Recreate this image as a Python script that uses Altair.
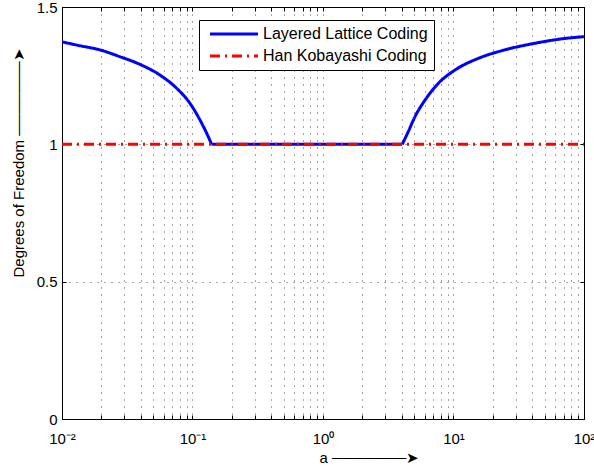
import json
import altair as alt
import pandas as pd

SERIES = ["Layered Lattice Coding", "Han Kobayashi Coding"]
COLORS = ["#0000ff", "#ff0000"]
DASHES = [[1, 0], [10, 5, 2, 5]]

# Layered lattice coding curve (three pieces)
LEFT_A = [0.01, 0.0137, 0.0195, 0.0278, 0.0396, 0.0564, 0.0757, 0.0957, 0.114, 0.132, 0.140]
LEFT_DOF = [1.373, 1.359, 1.344, 1.319, 1.291, 1.252, 1.204, 1.149, 1.089, 1.028, 1.0]
FLAT_A = [0.140, 4.05]
FLAT_DOF = [1.0, 1.0]
RIGHT_A = [4.05, 4.50, 5.07, 6.05, 7.65, 10.3, 15.5, 24.8, 42.1, 67.5, 100]
RIGHT_DOF = [1.0, 1.046, 1.101, 1.161, 1.222, 1.271, 1.313, 1.344, 1.368, 1.384, 1.392]

# Han Kobayashi coding
HK_A = [0.01, 100]
HK_DOF = [1.0, 1.0]

X_DECADES = [0.01, 0.1, 1, 10]
X_MULTIPLIERS = [1, 2, 3, 4, 5, 6, 7, 8, 9]
X_TICK_LABELS = ["10⁻²", "10⁻¹", "10⁰", "10¹", "10²"]
Y_TICKS = [0, 0.5, 1, 1.5]

X_TICKS = [round(m * d, 10) for d in X_DECADES for m in X_MULTIPLIERS] + [100]

rows = []
for seg, (xs, ys) in enumerate([(LEFT_A, LEFT_DOF), (FLAT_A, FLAT_DOF), (RIGHT_A, RIGHT_DOF)]):
    for a, v in zip(xs, ys):
        rows.append({"a": a, "dof": v, "series": SERIES[0], "seg": seg})
lattice = pd.DataFrame(rows)
hk = pd.DataFrame({"a": HK_A, "dof": HK_DOF, "series": SERIES[1], "seg": 0})

FONT = "Liberation Sans"

label_expr = (
    "abs(log(datum.value)/LN10 - round(log(datum.value)/LN10)) < 1e-6 ? "
    + json.dumps(X_TICK_LABELS, ensure_ascii=False)
    + "[round(log(datum.value)/LN10)+2] : ''"
)

xscale = alt.Scale(type="log", domain=[0.01, 100], nice=False)
yscale = alt.Scale(domain=[0, 1.5], nice=False, zero=False)

x_axis = alt.Axis(
    values=X_TICKS, labelExpr=label_expr, labelOverlap=False, labelFlush=False,
    labelFont=FONT, labelFontSize=15, labelColor="black", labelPadding=12.5,
    labelBaseline="top",
    domain=False, ticks=True, tickSize=4, tickColor="black", offset=-4,
    grid=True, gridDash=[1, 6], gridColor="#000000", gridOpacity=0.7,
    title="a ───────➤", titleFont=FONT, titleFontSize=15, titleFontWeight="normal",
    titleColor="black", titleX=257, titleY=47, titleAlign="left",
    titleBaseline="alphabetic",
)
y_axis = alt.Axis(
    values=Y_TICKS, format="~g", labelFont=FONT, labelFontSize=15,
    labelColor="black", labelPadding=5, labelFlush=False,
    domain=False, ticks=True, tickSize=4, tickColor="black", offset=-4,
    grid=True, gridDash=[1, 6], gridColor="#000000", gridOpacity=0.7,
    title="Degrees of Freedom ───────➤", titleFont=FONT, titleFontSize=15,
    titleFontWeight="normal", titleColor="black", titleAngle=270,
    titleX=-42.5, titleY=270, titleAlign="left", titleBaseline="alphabetic",
)

legend = alt.Legend(
    orient="none", legendX=137, legendY=13, title=None,
    fillColor="white", strokeColor="black", padding=6,
    labelFont=FONT, labelFontSize=16, labelColor="black", labelLimit=400,
    symbolType="M-0.5,0H7.5", symbolSize=144, symbolStrokeWidth=3,
    labelOffset=42, rowPadding=6,
)

color = alt.Color("series:N", scale=alt.Scale(domain=SERIES, range=COLORS), legend=legend)
dash = alt.StrokeDash("series:N", scale=alt.Scale(domain=SERIES, range=DASHES), legend=legend)

blue = alt.Chart(lattice).mark_line(strokeWidth=3, interpolate="monotone", clip=True).encode(
    x=alt.X("a:Q", scale=xscale, axis=x_axis),
    y=alt.Y("dof:Q", scale=yscale, axis=y_axis),
    color=color, strokeDash=dash, detail="seg:N",
)
red = alt.Chart(hk).mark_line(strokeWidth=3, clip=True).encode(
    x=alt.X("a:Q", scale=xscale, axis=None),
    y=alt.Y("dof:Q", scale=yscale, axis=None),
    color=color, strokeDash=dash,
)

x_top = alt.Axis(values=X_TICKS, orient="top", labels=False, domain=False, ticks=True,
                 tickSize=4, tickColor="black", offset=-4, grid=False, title=None)
y_right = alt.Axis(values=Y_TICKS, orient="right", labels=False, domain=False, ticks=True,
                   tickSize=4, tickColor="black", offset=-4, grid=False, title=None)
frame = alt.Chart(hk).mark_line(opacity=0).encode(
    x=alt.X("a:Q", scale=xscale, axis=x_top),
    y=alt.Y("dof:Q", scale=yscale, axis=y_right),
)

chart = (
    alt.layer(blue, red, frame)
    .resolve_axis(x="independent", y="independent")
    .properties(
        width=522, height=412,
        autosize=alt.AutoSizeParams(type="none"),
        padding={"left": 62, "top": 7, "right": 10, "bottom": 53},
        background="white",
    )
    .configure_view(stroke="black", strokeWidth=1)
)

chart.save("out.html", embed_options={"renderer": "svg", "actions": False})
